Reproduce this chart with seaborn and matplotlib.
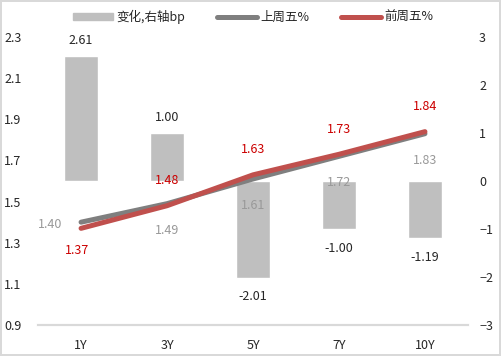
import numpy as np
import pandas as pd
import seaborn as sns
import matplotlib.pyplot as plt
from matplotlib.patches import Patch
from matplotlib.lines import Line2D

sns.set_theme(style='white')
plt.rcParams['font.family'] = ['Noto Sans CJK SC', 'DejaVu Sans']

tenors = ['1Y', '3Y', '5Y', '7Y', '10Y']
change_bp = [2.61, 1.00, -2.01, -1.00, -1.19]
last_fri = [1.40, 1.49, 1.61, 1.72, 1.83]
prev_fri = [1.37, 1.48, 1.63, 1.73, 1.84]

bar_c = '#bfbfbf'
gray_c = '#7f7f7f'
red_c = '#c0504d'

fig = plt.figure(figsize=(5.01, 3.56), dpi=100)
fig.patch.set_edgecolor('#d9d9d9')
fig.patch.set_linewidth(1.5)
ax = fig.add_axes([0.076, 0.087, 0.858, 0.809])
ax2 = ax.twinx()

# bars go on the base axes (drawn underneath), ticks shown on the right
df = pd.DataFrame({'tenor': tenors, 'chg': change_bp})
sns.barplot(data=df, x='tenor', y='chg', color=bar_c, width=0.4,
            saturation=1, ax=ax)
ax.set_ylim(-3, 3)
ax.set_yticks(range(-3, 4))
ax.yaxis.tick_right()
ax.set_xlim(-0.5, 4.5)

x = np.arange(len(tenors))
sns.lineplot(x=x, y=last_fri, color=gray_c, linewidth=3.6, ax=ax2,
             solid_capstyle='round')
sns.lineplot(x=x, y=prev_fri, color=red_c, linewidth=3.6, ax=ax2,
             solid_capstyle='round')
ax2.set_ylim(0.9, 2.3)
ax2.set_yticks([0.9, 1.1, 1.3, 1.5, 1.7, 1.9, 2.1, 2.3])
ax2.set_yticklabels(['0.9', '1.1', '1.3', '1.5', '1.7', '1.9', '2.1', '2.3'])
ax2.yaxis.tick_left()

for a in (ax, ax2):
    for s in ['top', 'left', 'right']:
        a.spines[s].set_visible(False)
    a.spines['bottom'].set_color('#d9d9d9')
    a.spines['bottom'].set_linewidth(1.5)
    a.tick_params(length=0, labelsize=9, colors='#262626')
    a.set_xlabel('')
    a.set_ylabel('')
ax.tick_params(axis='y', pad=8)
ax2.tick_params(axis='y', pad=12)
ax.tick_params(axis='x', pad=10)

# bar labels
for i, v in enumerate(change_bp):
    off = 11 if v > 0 else -14
    ax.annotate(f'{v:.2f}', (i, v), xytext=(0, off), textcoords='offset points',
                ha='center', va='center', fontsize=9, color='#262626')

# line labels
for i, v in enumerate(last_fri):
    if i == 0:
        xy_off = (-22, -2)
    else:
        xy_off = (0, -19)
    ax2.annotate(f'{v:.2f}', (i, v), xytext=xy_off, textcoords='offset points',
                 ha='center', va='center', fontsize=9, color='#999999')
for i, v in enumerate(prev_fri):
    xy_off = (-3, -16) if i == 0 else (0, 18)
    ax2.annotate(f'{v:.2f}', (i, v), xytext=xy_off, textcoords='offset points',
                 ha='center', va='center', fontsize=9, color='#cc0000')

handles = [Patch(color=bar_c), Line2D([], [], color=gray_c, lw=3.6, solid_capstyle='round'),
           Line2D([], [], color=red_c, lw=3.6, solid_capstyle='round')]
fig.legend(handles, ['变化,右轴bp', '上周五%', '前周五%'], loc='upper center',
           bbox_to_anchor=(0.505, 1.005), ncol=3, frameon=False, fontsize=9,
           handlelength=3.2, handleheight=0.5, columnspacing=2.5, handletextpad=0.3)

fig.savefig('out.png', dpi=100)
